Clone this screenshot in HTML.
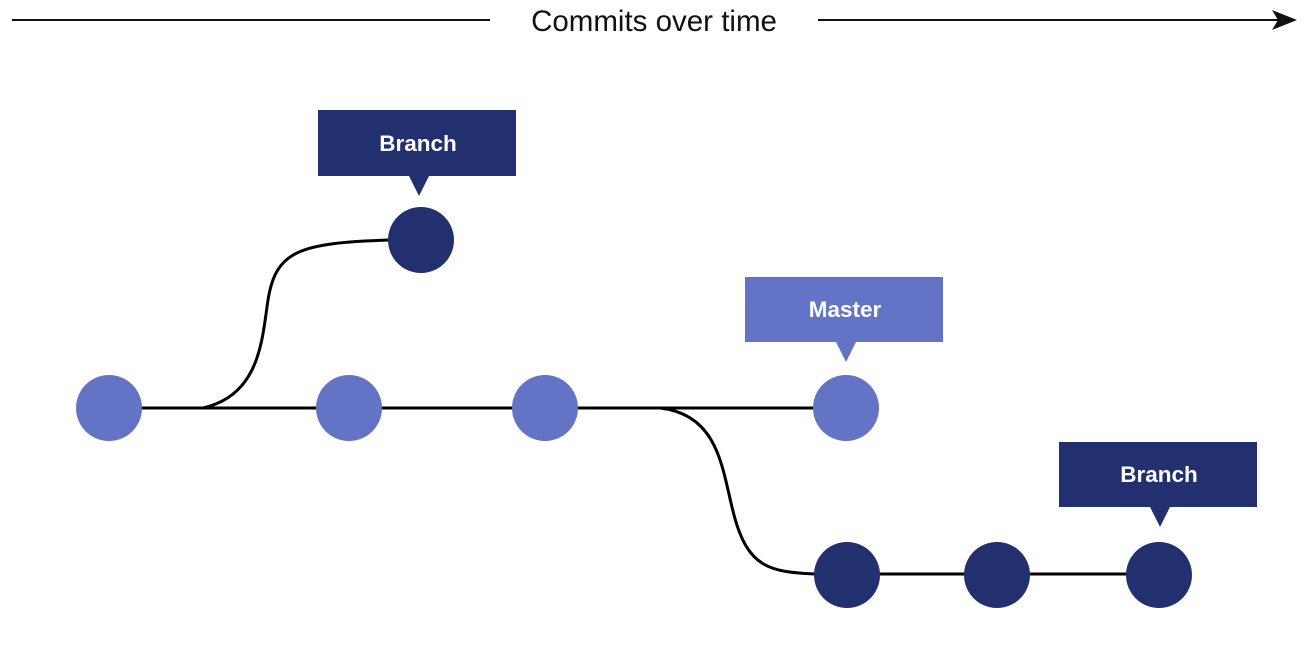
<!DOCTYPE html>
<html><head><style>
html,body{margin:0;padding:0;background:#fff;}
svg{display:block;}
text{font-family:"Liberation Sans",sans-serif;}
</style></head><body>
<svg width="1308" height="652" viewBox="0 0 1308 652" xmlns="http://www.w3.org/2000/svg">
<line x1="12" y1="20" x2="490" y2="20" stroke="#111" stroke-width="2"/>
<line x1="818" y1="20" x2="1280" y2="20" stroke="#111" stroke-width="2"/>
<polygon points="1297,20 1272,10 1278,20 1272,30" fill="#111"/>
<text x="654" y="31" font-size="29.5" text-anchor="middle" fill="#111">Commits over time</text>
<g fill="none" stroke="#000" stroke-width="3">
<line x1="109" y1="408" x2="846" y2="408"/>
<path d="M203,408 C260,395 262,340 268,300 C276,250 300,243 390,240"/>
<path d="M660,408 C720,415 722,470 734,515 C748,568 770,572 815,574 L1159,574"/>
</g>
<g fill="#6373c5">
<circle cx="109" cy="408" r="33"/><circle cx="349" cy="408" r="33"/>
<circle cx="545" cy="408" r="33"/><circle cx="846" cy="408" r="33"/>
<rect x="745" y="277" width="198" height="65"/>
<polygon points="836,342 856,342 846,362"/>
</g>
<g fill="#22306f">
<circle cx="421" cy="240" r="33"/>
<circle cx="847" cy="575" r="33"/><circle cx="997" cy="575" r="33"/><circle cx="1159" cy="575" r="33"/>
<rect x="318" y="110" width="198" height="66"/>
<polygon points="409,176 429,176 419,196"/>
<rect x="1059" y="442" width="198" height="65"/>
<polygon points="1150,507 1170,507 1160,527"/>
</g>
<g fill="#fff" font-size="22.5" font-weight="bold" text-anchor="middle">
<text x="418" y="151">Branch</text>
<text x="845" y="317">Master</text>
<text x="1159" y="482">Branch</text>
</g>
</svg>
</body></html>
